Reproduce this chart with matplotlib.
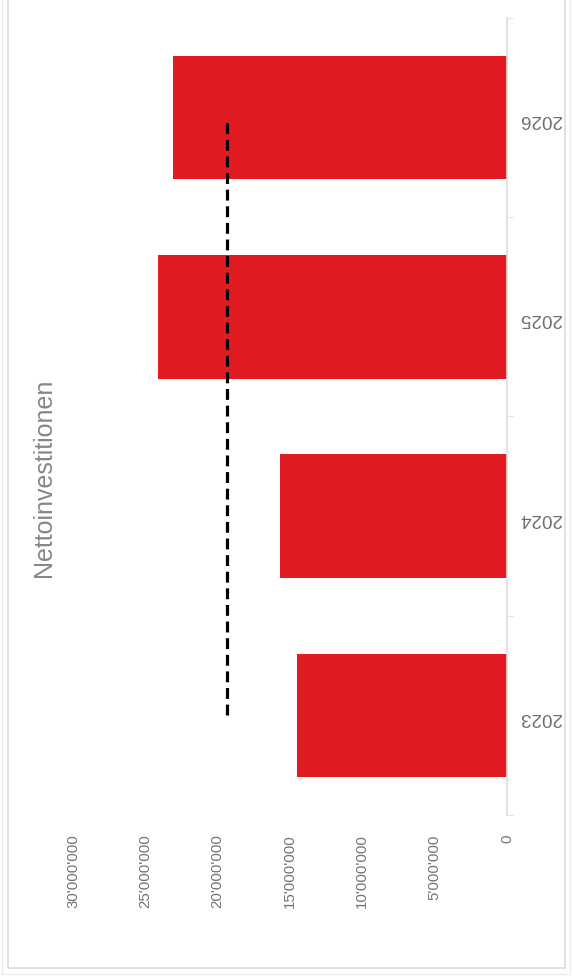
import matplotlib.pyplot as plt
from matplotlib.patches import Rectangle
from matplotlib.ticker import FuncFormatter

plt.rcParams['font.family'] = ['Liberation Sans', 'DejaVu Sans']

# Daten
years = ['2023', '2024', '2025', '2026']
values = [14.5e6, 15.7e6, 24.1e6, 23.1e6]
avg_value = 19.35e6
value_ticks = [0, 5e6, 10e6, 15e6, 20e6, 25e6, 30e6]
title = 'Nettoinvestitionen'

fig = plt.figure(figsize=(5.73, 9.77), dpi=100)
ax = fig.add_axes([73 / 573, 1 - 815 / 977, 434 / 573, 797 / 977])

pos = range(len(years))
ax.barh(pos, values, height=0.62, color='#e11b22', zorder=2)
ax.plot([avg_value] * len(years), pos, color='black', lw=2.3,
        linestyle=(0, (3.4, 1.8)), zorder=3)

ax.set_xlim(30e6, 0)
ax.set_ylim(-0.5, len(years) - 0.5)
ax.set_xticks(value_ticks)
ax.xaxis.set_major_formatter(FuncFormatter(lambda v, p: f"{int(v):,}".replace(',', "'")))
ax.tick_params(axis='x', length=0, pad=14, labelsize=10.8, labelcolor='#737373',
               labelrotation=90)

ax.yaxis.tick_right()
ax.set_yticks(list(pos))
ax.set_yticklabels(years)
ax.set_yticks([i - 0.5 for i in range(len(years) + 1)], minor=True)
ax.tick_params(axis='y', which='major', length=0, pad=9, labelsize=13.5,
               labelcolor='#6e6e6e', labelrotation=180)
ax.tick_params(axis='y', which='minor', length=4, color='#dddddd')

for s in ['top', 'left', 'bottom']:
    ax.spines[s].set_visible(False)
ax.spines['right'].set_color('#dddddd')
ax.spines['right'].set_linewidth(1.2)

fig.text(44 / 573, 1 - 478 / 977, title, rotation=90, ha='center', va='center',
         fontsize=18, color='#878787')

# Rahmen
fig.add_artist(Rectangle((8 / 573, 1 - 968 / 977), 557 / 573, 980 / 977,
                         transform=fig.transFigure, fill=False, ec='#dcdcdc', lw=1.2))
fig.add_artist(Rectangle((2 / 573, 1 - 974 / 977), 568 / 573, 990 / 977,
                         transform=fig.transFigure, fill=False, ec='#ececec', lw=1))

fig.savefig('out.png', dpi=100)
